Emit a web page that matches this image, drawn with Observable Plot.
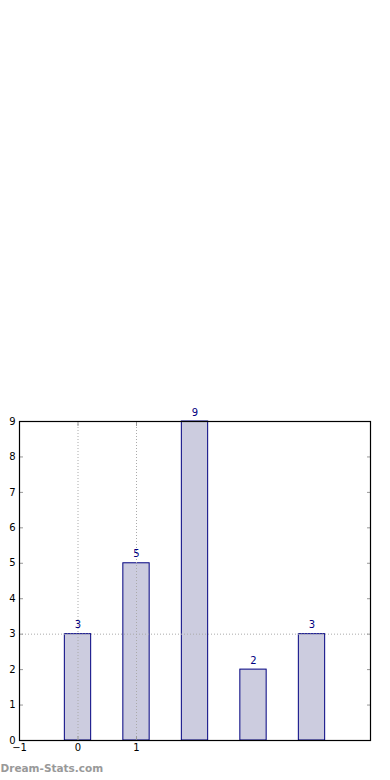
<!DOCTYPE html>
<html><head><meta charset="utf-8">
<script src="https://cdn.jsdelivr.net/npm/d3@7"></script>
<script src="https://cdn.jsdelivr.net/npm/@observablehq/plot@0.6"></script>
<style>body{margin:0;background:#fff} svg{display:block}</style>
</head><body><div id="chart"></div>
<script>
const positions = [0, 1, 2, 3, 4];
const counts = [3, 5, 9, 2, 3];
const xTicks = [-1, 0, 1];
const yTicks = [0, 1, 2, 3, 4, 5, 6, 7, 8, 9];
const xGrid = [0, 1];
const yGrid = [3];
const watermark = ["Dream-Stats.com"];
const barHalfWidth = 0.225;

const data = positions.map((p, i) => ({x1: p - barHalfWidth, x2: p + barHalfWidth, xc: p, y: counts[i]}));
const fmt = d => d < 0 ? "\u2212" + Math.abs(d) : String(d);

const chart = Plot.plot({
  width: 390, height: 780,
  marginTop: 421, marginLeft: 19, marginRight: 20, marginBottom: 40,
  style: {fontFamily: "DejaVu Sans", fontSize: "10px", background: "#fff", color: "#000"},
  x: {domain: [-1, 5]},
  y: {domain: [0, 9]},
  marks: [
    Plot.rectY(data, {x1: "x1", x2: "x2", y: "y", fill: "#ccccdf", stroke: "#000080", strokeWidth: 1}),
    Plot.ruleX(xGrid, {stroke: "#aaa", strokeDasharray: "1,2"}),
    Plot.ruleY(yGrid, {stroke: "#aaa", strokeDasharray: "1,2"}),
    Plot.text(data, {x: "xc", y: "y", text: d => String(d.y), dy: -9, fill: "#000080", fontSize: 10}),
    Plot.axisX(xTicks, {anchor: "bottom", tickSize: -4, tickPadding: 7, tickFormat: fmt, label: null, stroke: "#999", fill: "#000"}),
    Plot.axisX(xTicks, {anchor: "top", tickSize: -4, tickFormat: () => "", label: null, stroke: "#999"}),
    Plot.axisY(yTicks, {anchor: "left", tickSize: -4, tickPadding: 8, tickFormat: fmt, label: null, stroke: "#999", fill: "#000"}),
    Plot.axisY(yTicks, {anchor: "right", tickSize: -4, tickFormat: () => "", label: null, stroke: "#999"}),
    Plot.frame({stroke: "#000", strokeWidth: 1.2}),
    Plot.text(watermark, {frameAnchor: "bottom-left", text: d => d, dx: -19, dy: 31, textAnchor: "start", fill: "#999", fontWeight: "bold", fontSize: 10.5})
  ]
});
document.getElementById("chart").append(chart);
</script>
</body></html>
